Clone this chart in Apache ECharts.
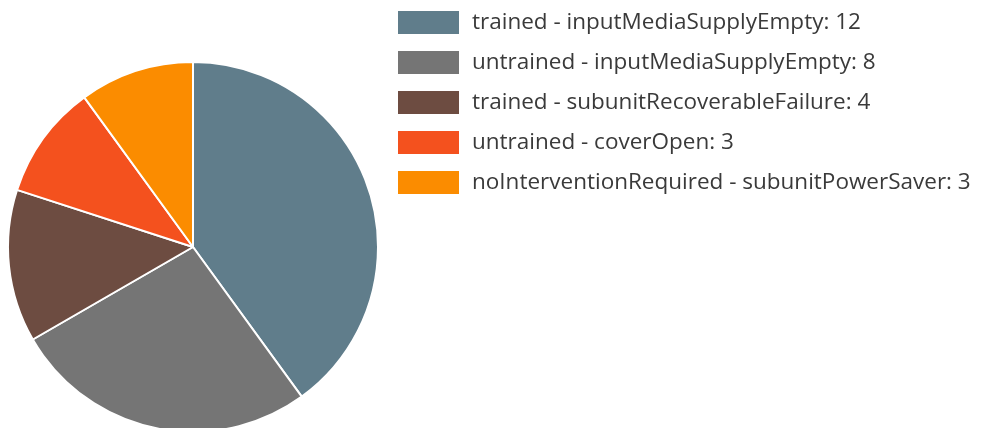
<!DOCTYPE html>
<html>
<head>
<meta charset="utf-8">
<style>
  html, body { margin: 0; padding: 0; background: #ffffff; }
  #chart { width: 996px; height: 428px; }
</style>
<script src="https://cdn.jsdelivr.net/npm/echarts@6/dist/echarts.min.js"></script>
</head>
<body>
<div id="chart"></div>
<script>
// Slice names and counts
var categories = [
  'trained - inputMediaSupplyEmpty',
  'untrained - inputMediaSupplyEmpty',
  'trained - subunitRecoverableFailure',
  'untrained - coverOpen',
  'noInterventionRequired - subunitPowerSaver'
];
var counts = [12, 8, 4, 3, 3];
var colors = ['#607D8B', '#757575', '#6D4C41', '#F4511E', '#FB8C00'];

var pieData = categories.map(function (name, i) {
  return { name: name, value: counts[i], itemStyle: { color: colors[i] } };
});
var countByName = {};
categories.forEach(function (name, i) { countByName[name] = counts[i]; });

var chart = echarts.init(document.getElementById('chart'), null, { renderer: 'canvas' });
chart.setOption({
  animation: false,
  legend: {
    orient: 'vertical',
    left: 396,
    top: 9,
    padding: 0,
    itemWidth: 63,
    itemHeight: 25,
    itemGap: 13,
    icon: 'rect',
    selectedMode: false,
    textStyle: {
      fontFamily: 'Open Sans',
      fontSize: 22.5,
      color: '#3a3a3a',
      lineHeight: 25,
      padding: [0, 0, 0, 7]
    },
    formatter: function (name) { return name + ': ' + countByName[name]; },
    data: categories
  },
  series: [{
    type: 'pie',
    center: [193, 247],
    radius: 185,
    startAngle: 90,
    clockwise: true,
    label: { show: false },
    labelLine: { show: false },
    itemStyle: { borderColor: '#ffffff', borderWidth: 2 },
    emphasis: { disabled: true },
    data: pieData
  }]
});
</script>
</body>
</html>
